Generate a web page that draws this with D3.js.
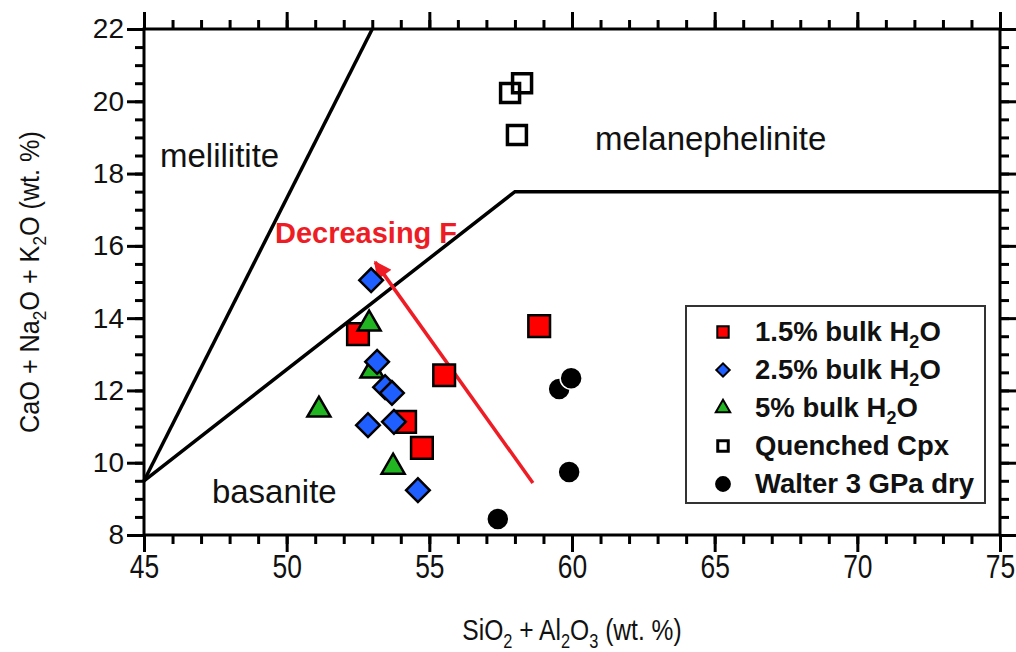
<!DOCTYPE html>
<html>
<head>
<meta charset="utf-8">
<script src="https://cdn.jsdelivr.net/npm/d3@7"></script>
<style>
body { margin: 0; background: #fff; }
text { font-family: "Liberation Sans", Arial, sans-serif; }
</style>
</head>
<body>
<script>
// data: [SiO2+Al2O3, CaO+Na2O+K2O]
var bulk15 = [[52.5, 13.56], [58.85, 13.78], [55.52, 12.42], [54.15, 11.13], [54.74, 10.41]];
var bulk25 = [[52.96, 15.05], [53.17, 12.79], [53.45, 12.09], [53.69, 11.93], [52.85, 11.04], [53.76, 11.13], [54.6, 9.24]];
var bulk5 = [[52.89, 13.84], [52.99, 12.54], [53.73, 9.88], [51.13, 11.46]];
var cpx = [[57.83, 20.23], [58.25, 20.5], [58.07, 19.07]];
var walter = [[59.55, 12.04], [59.97, 12.34], [59.9, 9.74], [57.4, 8.44]];

// field boundaries
var melBoundary = [[45, 9.5], [53, 22]];
var basBoundary = [[45, 9.5], [58, 17.5], [75, 17.5]];
var arrow = [[58.63, 9.44], [53.1, 15.55]];

var xTicks = [45, 50, 55, 60, 65, 70, 75];
var yTicks = [8, 10, 12, 14, 16, 18, 20, 22];

var w = 1016, h = 652;
var m = {left: 144, right: 16, top: 29, bottom: 117};

var svg = d3.select("body").append("svg")
  .attr("width", w)
  .attr("height", h);

var x = d3.scaleLinear().domain([45, 75]).range([m.left, w - m.right]);
var y = d3.scaleLinear().domain([8, 22]).range([h - m.bottom, m.top]);

var minorX = d3.range(45, 75.01, 1);
var minorY = d3.range(8, 22.01, 0.5);

function ticksAxis(axisFn, scale, minor, major, pos, labels, size, squeeze) {
  var g = svg.append("g").attr("transform", pos);
  g.call(axisFn(scale).tickValues(minor).tickSize(9).tickFormat(""));
  var g2 = svg.append("g").attr("transform", pos);
  g2.call(axisFn(scale).tickValues(major).tickSize(17).tickPadding(3)
    .tickFormat(labels ? d3.format("d") : ""));
  [g, g2].forEach(function(gg) {
    gg.select(".domain").remove();
    gg.selectAll("line").attr("stroke", "#000").attr("stroke-width", 3);
    gg.selectAll("text").attr("font-size", size).attr("fill", "#111")
      .style("font-family", "'Liberation Sans', Arial, sans-serif");
  });
  if (squeeze) {
    // the original labels are set in a condensed face
    g2.selectAll("text").attr("transform", "scale(" + squeeze + ",1)");
  }
  return g2;
}

ticksAxis(d3.axisBottom, x, minorX, xTicks, "translate(0," + y(8) + ")", true, 33, 0.8);
ticksAxis(d3.axisTop, x, minorX, xTicks, "translate(0," + y(22) + ")", false, 33);
ticksAxis(d3.axisLeft, y, minorY, yTicks, "translate(" + x(45) + ",0)", true, 28);
ticksAxis(d3.axisRight, y, minorY, yTicks, "translate(" + x(75) + ",0)", false, 28);

svg.append("rect")
  .attr("x", x(45)).attr("y", y(22))
  .attr("width", x(75) - x(45)).attr("height", y(8) - y(22))
  .attr("fill", "none").attr("stroke", "#000").attr("stroke-width", 3);

// boundaries
var line = d3.line().x(function(d) { return x(d[0]); }).y(function(d) { return y(d[1]); });
[melBoundary, basBoundary].forEach(function(b) {
  svg.append("path").attr("d", line(b))
    .attr("fill", "none").attr("stroke", "#000").attr("stroke-width", 3.5)
    .attr("stroke-linejoin", "miter");
});

// field names
svg.append("text").attr("x", x(45.56)).attr("y", y(18.18)).attr("font-size", 33).attr("fill", "#111").text("melilitite");
svg.append("text").attr("x", x(60.81)).attr("y", y(18.65)).attr("font-size", 33).attr("fill", "#111").text("melanephelinite");
svg.append("text").attr("x", x(47.38)).attr("y", y(8.88)).attr("font-size", 33).attr("fill", "#111").text("basanite");

// arrow
svg.append("defs").append("marker")
  .attr("id", "ah").attr("viewBox", "0 0 10 10").attr("refX", 9).attr("refY", 5)
  .attr("markerWidth", 6).attr("markerHeight", 5).attr("markerUnits", "strokeWidth")
  .attr("orient", "auto")
  .append("path").attr("d", "M0,0L10,5L0,10z").attr("fill", "#ee1c24");
svg.append("path").attr("d", line(arrow))
  .attr("stroke", "#ee1c24").attr("stroke-width", 3.5).attr("fill", "none")
  .attr("marker-end", "url(#ah)");
svg.append("text").attr("x", x(49.59)).attr("y", y(16.08)).attr("font-size", 29)
  .attr("font-weight", "bold").attr("fill", "#ee1c24").text("Decreasing F");

// points
function plot(data, type, size, fill, sw, rot) {
  svg.append("g").selectAll("path").data(data).enter().append("path")
    .attr("d", d3.symbol().type(type).size(size))
    .attr("transform", function(d) {
      return "translate(" + x(d[0]) + "," + y(d[1]) + ")" + (rot ? " rotate(" + rot + ")" : "");
    })
    .attr("fill", fill).attr("stroke", fill === "#000" ? "#fff" : "#000").attr("stroke-width", sw);
}
plot(walter, d3.symbolCircle, 380, "#000", 1.5);
plot(cpx, d3.symbolSquare, 360, "none", 3.5);
plot(bulk15, d3.symbolSquare, 470, "#ff0000", 2.5);
plot(bulk5, d3.symbolTriangle, 230, "#22b522", 2.5);
plot(bulk25, d3.symbolSquare, 280, "#1f5fff", 2.5, 45);

// legend
var legendItems = [
  {label: "1.5% bulk H", sub: "2", tail: "O", type: d3.symbolSquare, size: 130, fill: "#ff0000", rot: 0},
  {label: "2.5% bulk H", sub: "2", tail: "O", type: d3.symbolSquare, size: 90, fill: "#1f5fff", rot: 45},
  {label: "5% bulk H", sub: "2", tail: "O", type: d3.symbolTriangle, size: 90, fill: "#22b522", rot: 0},
  {label: "Quenched Cpx", sub: "", tail: "", type: d3.symbolSquare, size: 110, fill: "none", rot: 0},
  {label: "Walter 3 GPa dry", sub: "", tail: "", type: d3.symbolCircle, size: 150, fill: "#000", rot: 0}
];
svg.append("rect").attr("x", 686).attr("y", 306).attr("width", 299).attr("height", 197)
  .attr("fill", "#fff").attr("stroke", "#333").attr("stroke-width", 2);
var lg = svg.append("g").selectAll("g").data(legendItems).enter().append("g")
  .attr("transform", function(d, i) { return "translate(723," + (332 + i * 38) + ")"; });
lg.append("path")
  .attr("d", function(d) { return d3.symbol().type(d.type).size(d.size)(); })
  .attr("transform", function(d) { return "rotate(" + d.rot + ")"; })
  .attr("fill", function(d) { return d.fill; })
  .attr("stroke", "#000").attr("stroke-width", function(d) { return d.fill === "none" ? 3 : 2; });
var lt = lg.append("text").attr("x", 32).attr("y", 9).attr("font-size", 27.5)
  .attr("font-weight", "bold").attr("fill", "#111");
lt.append("tspan").text(function(d) { return d.label; });
lt.append("tspan").attr("font-size", 18).attr("dy", 7).text(function(d) { return d.sub; });
lt.append("tspan").attr("dy", -7).text(function(d) { return d.tail; });

// axis titles (condensed like the original)
var xt = svg.append("text").attr("transform", "translate(572,640) scale(0.82,1)")
  .attr("text-anchor", "middle").attr("font-size", 30).attr("fill", "#111");
xt.append("tspan").text("SiO");
xt.append("tspan").attr("font-size", 20).attr("dy", 8).text("2");
xt.append("tspan").attr("dy", -8).text(" + Al");
xt.append("tspan").attr("font-size", 20).attr("dy", 8).text("2");
xt.append("tspan").attr("dy", -8).text("O");
xt.append("tspan").attr("font-size", 20).attr("dy", 8).text("3");
xt.append("tspan").attr("dy", -8).text(" (wt. %)");

var yt = svg.append("text").attr("transform", "translate(39,282) rotate(-90) scale(0.9,1)")
  .attr("text-anchor", "middle").attr("font-size", 28).attr("fill", "#111");
yt.append("tspan").text("CaO + Na");
yt.append("tspan").attr("font-size", 19).attr("dy", 7).text("2");
yt.append("tspan").attr("dy", -7).text("O + K");
yt.append("tspan").attr("font-size", 19).attr("dy", 7).text("2");
yt.append("tspan").attr("dy", -7).text("O (wt. %)");
</script>
</body>
</html>
